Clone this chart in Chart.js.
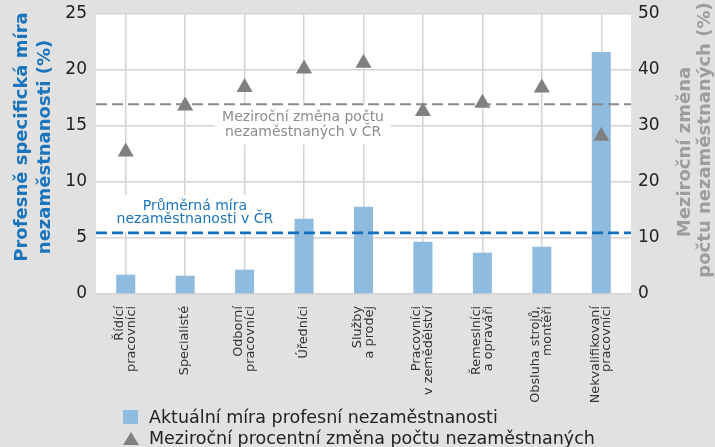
<!DOCTYPE html>
<html>
<head>
<meta charset="utf-8">
<script src="https://cdn.jsdelivr.net/npm/chart.js@4.4.0/dist/chart.umd.min.js"></script>
<style>
  body { margin: 0; background: #e1e1e1; width: 715px; height: 447px; overflow: hidden; font-family: "DejaVu Sans", sans-serif; }
  #wrap { position: relative; width: 715px; height: 447px; }
  #chart { position: absolute; left: 0; top: 0; }
  #legend { position: absolute; left: 123px; top: 407px; color: #222; font-size: 17.5px; }
  .row { height: 20.5px; line-height: 20.5px; position: relative; padding-left: 26px; white-space: nowrap; }
  .sq { position: absolute; left: 0; top: 3px; width: 15px; height: 14px; background: #8fbbde; }
  .tri { position: absolute; left: 0; top: 4px; width: 0; height: 0; border-left: 8px solid transparent; border-right: 8px solid transparent; border-bottom: 13px solid #808080; }
</style>
</head>
<body>
<div id="wrap">
  <canvas id="chart" width="715" height="447"></canvas>
  <div id="legend"></div>
</div>
<script>
const categories = [
    ['Řídící', 'pracovníci'],
    ['Specialisté'],
    ['Odborní', 'pracovníci'],
    ['Úředníci'],
    ['Služby', 'a prodej'],
    ['Pracovníci', 'v zemědělství'],
    ['Řemeslníci', 'a opraváři'],
    ['Obsluha strojů,', 'montéři'],
    ['Nekvalifikovaní', 'pracovníci']
];
const currentRate = [1.72, 1.63, 2.17, 6.72, 7.8, 4.67, 3.69, 4.22, 21.6];
const yearlyChange = [25.4, 33.6, 36.9, 40.2, 41.25, 32.6, 34.1, 36.8, 28.2];
const avgRateCR = 5.45;
const avgChangeCR = 33.9;
const leftTicks = [0, 5, 10, 15, 20, 25];
const rightTicks = [0, 10, 20, 30, 40, 50];
const seriesNames = ['Aktuální míra profesní nezaměstnanosti', 'Meziroční procentní změna počtu nezaměstnaných'];
const leftTitle = ['Profesně specifická míra', 'nezaměstnanosti (%)'];
const rightTitle = ['Meziroční změna', 'počtu nezaměstnaných (%)'];
const rateNote = ['Průměrná míra', 'nezaměstnanosti v ČR'];
const changeNote = ['Meziroční změna počtu', 'nezaměstnaných v ČR'];

const FONT = '"DejaVu Sans", sans-serif';
const BLUE = '#1b75bc';
const GREY_TXT = '#8c8c8c';

function rotatedText(ctx, text, x, y) {
    ctx.save();
    ctx.translate(x, y);
    ctx.rotate(-Math.PI / 2);
    ctx.fillText(text, 0, 0);
    ctx.restore();
}

function note(ctx, lines, cx, ys, color) {
    ctx.font = '14px ' + FONT;
    const w = Math.max(...lines.map(t => ctx.measureText(t).width)) + 14;
    ctx.fillStyle = '#fff';
    ctx.fillRect(cx - w / 2, ys[0] - 11, w, ys[1] - ys[0] + 23);
    ctx.fillStyle = color;
    ctx.textAlign = 'center';
    ctx.textBaseline = 'middle';
    lines.forEach((t, i) => ctx.fillText(t, cx, ys[i]));
}

function dashLine(ctx, area, y, color, width, dash) {
    ctx.save();
    ctx.strokeStyle = color;
    ctx.lineWidth = width;
    ctx.setLineDash(dash);
    ctx.beginPath();
    ctx.moveTo(area.left, y);
    ctx.lineTo(area.right, y);
    ctx.stroke();
    ctx.restore();
}

const decor = {
    id: 'decor',
    beforeDraw(chart) {
        const { ctx, chartArea: a } = chart;
        ctx.save();
        ctx.fillStyle = '#fff';
        ctx.fillRect(a.left, a.top - 1, a.right - a.left, a.bottom - a.top + 1);
        ctx.restore();
    },
    beforeDatasetsDraw(chart) {
        const { ctx, scales } = chart;
        const xs = scales.x;
        ctx.save();
        // notes sit on white boxes that hide the grid
        const gy = scales.y1.getPixelForValue(avgChangeCR);
        note(ctx, changeNote, xs.getPixelForValue(3) - 1, [gy + 12.7, gy + 28.3], GREY_TXT);
        const by = scales.y.getPixelForValue(avgRateCR);
        note(ctx, rateNote, (xs.getPixelForValue(1) + xs.getPixelForValue(2)) / 2 - 20, [by - 27, by - 13.3], BLUE);
        ctx.restore();
    },
    afterDatasetDraw(chart, args) {
        if (args.meta.type !== 'bar') return;
        const { ctx, chartArea: a, scales } = chart;
        dashLine(ctx, a, scales.y1.getPixelForValue(avgChangeCR), '#8a8a8a', 2, [11, 5]);
        dashLine(ctx, a, scales.y.getPixelForValue(avgRateCR), '#1570c0', 2.7, [11, 5]);
    },
    afterDraw(chart) {
        const { ctx, chartArea: a, scales } = chart;
        const xs = scales.x;
        ctx.save();
        // category labels, rotated, block centred on the tick
        ctx.font = '12.8px ' + FONT;
        ctx.fillStyle = '#333';
        ctx.textAlign = 'right';
        ctx.textBaseline = 'middle';
        categories.forEach((lines, i) => {
            const px = xs.getPixelForValue(i);
            lines.forEach((t, j) => {
                rotatedText(ctx, t, px + (j - (lines.length - 1) / 2) * 11.8, a.bottom + 12);
            });
        });
        // axis titles
        ctx.font = 'bold 18px ' + FONT;
        ctx.textAlign = 'center';
        ctx.fillStyle = BLUE;
        rotatedText(ctx, leftTitle[0], 22, 137);
        rotatedText(ctx, leftTitle[1], 45, 147);
        ctx.fillStyle = '#9d9d9d';
        rotatedText(ctx, rightTitle[0], 685, 152);
        rotatedText(ctx, rightTitle[1], 705, 140);
        ctx.restore();
    }
};

const tickFont = { family: FONT, size: 17 };
const noPad = s => { s.paddingTop = 0; s.paddingBottom = 0; };

new Chart(document.getElementById('chart'), {
    type: 'bar',
    data: {
        labels: categories.map(l => l.join(' ')),
        datasets: [
            {
                label: seriesNames[0],
                data: currentRate,
                yAxisID: 'y',
                backgroundColor: '#8fbbde',
                barPercentage: 0.32,
                categoryPercentage: 1,
                order: 2
            },
            {
                type: 'line',
                label: seriesNames[1],
                data: yearlyChange,
                yAxisID: 'y1',
                showLine: false,
                pointStyle: 'triangle',
                pointRadius: 9.3,
                pointBackgroundColor: '#808080',
                pointBorderWidth: 0,
                order: 1
            }
        ]
    },
    options: {
        responsive: false,
        animation: false,
        layout: { padding: { top: 14, left: 0, right: 0, bottom: 0 } },
        plugins: { legend: { display: false }, tooltip: { enabled: false } },
        scales: {
            x: {
                grid: { offset: false, color: '#d4d4d4', lineWidth: 1.5, drawTicks: false },
                border: { display: false },
                ticks: { display: false },
                afterFit: s => { s.height = 153; s.paddingLeft = 0; s.paddingRight = 0; }
            },
            y: {
                position: 'left',
                min: 0, max: 25,
                afterBuildTicks: s => { s.ticks = leftTicks.map(v => ({ value: v })); },
                grid: { color: '#d4d4d4', lineWidth: 1.5, drawTicks: false },
                border: { display: false },
                ticks: { font: tickFont, color: '#222', padding: 9 },
                afterFit: s => { s.width = 96; noPad(s); }
            },
            y1: {
                position: 'right',
                min: 0, max: 50,
                afterBuildTicks: s => { s.ticks = rightTicks.map(v => ({ value: v })); },
                grid: { display: false, drawTicks: false },
                border: { display: false },
                ticks: { font: tickFont, color: '#222', padding: 7 },
                afterFit: s => { s.width = 84; noPad(s); }
            }
        }
    },
    plugins: [decor]
});

// legend below the chart
const legend = document.getElementById('legend');
seriesNames.forEach((name, i) => {
    const row = document.createElement('div');
    row.className = 'row';
    row.innerHTML = `<span class="${i === 0 ? 'sq' : 'tri'}"></span>${name}`;
    legend.appendChild(row);
});
</script>
</body>
</html>
